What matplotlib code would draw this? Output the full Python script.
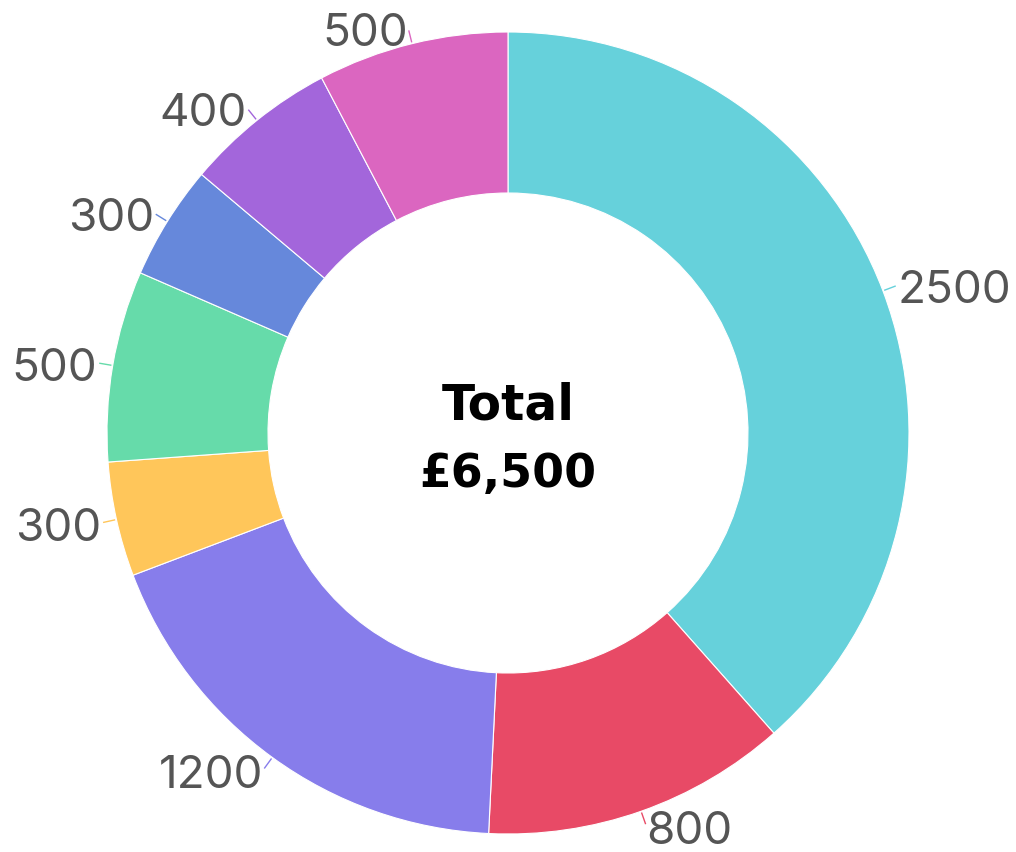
import numpy as np
import matplotlib
matplotlib.use("Agg")
import matplotlib.pyplot as plt

valores = [2500, 800, 1200, 300, 500, 300, 400, 500]
etiquetas = ["2500", "800", "1200", "300", "500", "300", "400", "500"]
colores = ["#66D1DB", "#E84A66", "#877DEB", "#FFC65A",
           "#66DBAA", "#6688DB", "#A366DB", "#DB66C0"]
total = sum(valores)

W, H = 1016, 852
cx, cy = 508, H - 433
R_ext, R_int = 401, 240

fig = plt.figure(figsize=(W / 100, H / 100), dpi=100)
ax = fig.add_axes([0, 0, 1, 1])

wedges, _ = ax.pie(valores, colors=colores, startangle=90, counterclock=False,
                   center=(cx, cy), radius=R_ext, frame=True,
                   wedgeprops=dict(width=R_ext - R_int, edgecolor="white", linewidth=0.8))
ax.set_xlim(0, W)
ax.set_ylim(0, H)
ax.set_aspect("equal")
ax.axis("off")

for w, txt, col in zip(wedges, etiquetas, colores):
    ang = np.deg2rad((w.theta1 + w.theta2) / 2)
    c, s = np.cos(ang), np.sin(ang)
    ax.plot([cx + 403 * c, cx + 414 * c], [cy + 403 * s, cy + 414 * s],
            color=col, lw=1)
    ax.text(cx + 417 * c, cy + 417 * s - 6, txt, fontsize=33, color="#555555",
            family="Inter", ha="left" if c > 0 else "right", va="center")

ax.text(cx, cy + 27, "Total", fontsize=35, fontweight="heavy",
        ha="center", va="center", color="black", family="DejaVu Sans")
ax.text(cx, cy - 41, f"£{total:,}", fontsize=33, fontweight="heavy",
        ha="center", va="center", color="black", family="DejaVu Sans")

fig.savefig("out.png", dpi=100)
